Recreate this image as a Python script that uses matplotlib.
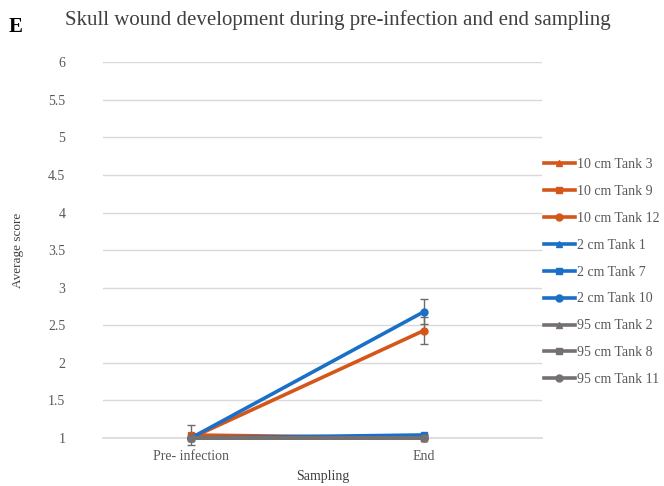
import matplotlib.pyplot as plt

plt.rcParams['font.family'] = ['Liberation Serif', 'DejaVu Serif']

# categories on the x axis
samplings = ['Pre- infection', 'End']

# series names, as in the legend
series_names = ['10 cm Tank 3', '10 cm Tank 9', '10 cm Tank 12',
                '2 cm Tank 1', '2 cm Tank 7', '2 cm Tank 10',
                '95 cm Tank 2', '95 cm Tank 8', '95 cm Tank 11']

# average scores (pre-infection, end)
tank3 = [1.0, 1.0]
tank9 = [1.04, 1.0]
tank12 = [1.0, 2.43]
tank1 = [1.0, 1.0]
tank7 = [1.0, 1.04]
tank10 = [1.0, 2.68]
tank2 = [1.0, 1.0]
tank8 = [1.0, 1.0]
tank11 = [1.0, 1.0]

# standard errors
err3 = [0.0, 0.0]
err9 = [0.13, 0.0]
err12 = [0.0, 0.175]
err1 = [0.0, 0.0]
err7 = [0.0, 0.0]
err10 = [0.0, 0.17]
err2 = [0.0, 0.0]
err8 = [0.0, 0.0]
err11 = [0.0, 0.0]

values = [tank3, tank9, tank12, tank1, tank7, tank10, tank2, tank8, tank11]
errors = [err3, err9, err12, err1, err7, err10, err2, err8, err11]

orange = '#D5561A'
blue = '#1A6FC6'
gray = '#767171'
colors = [orange] * 3 + [blue] * 3 + [gray] * 3
markers = ['^', 's', 'o'] * 3

fig = plt.figure(figsize=(6.64, 4.86), dpi=100)
ax = fig.add_axes([0.155, 0.0988, 0.661, 0.7732])

x = list(range(len(samplings)))
handles = []
for name, vals, errs, c, m in zip(series_names, values, errors, colors, markers):
    eb = ax.errorbar(x, vals, yerr=errs, color=c, marker=m, markersize=5, lw=2.6,
                     ecolor='#6b6b6b', elinewidth=1, capsize=3, label=name, clip_on=False)
    handles.append(eb[0])

ax.set_ylim(1, 6)
ax.set_xlim(-0.378, 1.506)
ax.set_yticks([1, 1.5, 2, 2.5, 3, 3.5, 4, 4.5, 5, 5.5, 6])
ax.set_yticklabels(['1', '1.5', '2', '2.5', '3', '3.5', '4', '4.5', '5', '5.5', '6'])
ax.set_xticks(x)
ax.set_xticklabels(samplings)
ax.grid(axis='y', color='#d9d9d9', lw=1)
ax.axhline(1, color='#d9d9d9', lw=1.2, clip_on=False, zorder=0.5)
ax.set_axisbelow(True)
for s in ax.spines.values():
    s.set_visible(False)
ax.tick_params(length=0, labelsize=10, colors='#595959', pad=9)
ax.tick_params(axis='y', pad=27)

ax.set_xlabel('Sampling', fontsize=10, color='#404040', labelpad=5)
fig.text(0.027, 0.485, 'Average score', rotation=90, fontsize=9.5,
         color='#404040', va='center', ha='center')

fig.text(0.509, 0.958, 'Skull wound development during pre-infection and end sampling',
         fontsize=15, color='#404040', ha='center', va='center')
fig.text(0.013, 0.945, 'E', fontsize=15, fontweight='bold', ha='left', va='center')

ax.legend(handles, series_names, loc='upper left', bbox_to_anchor=(1.005, 0.745),
          frameon=False, fontsize=10, labelcolor='#595959', handlelength=2.2,
          handletextpad=0.15, labelspacing=1.0, borderaxespad=0, borderpad=0)

fig.savefig('out.png', dpi=100)
